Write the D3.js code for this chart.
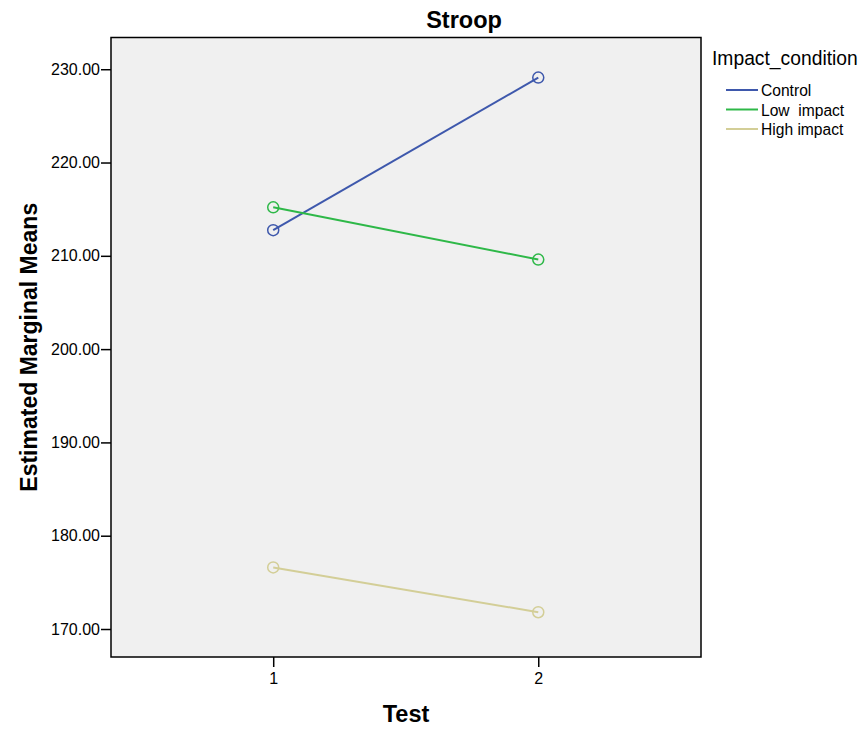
<!DOCTYPE html>
<html>
<head>
<meta charset="utf-8">
<script src="https://cdn.jsdelivr.net/npm/d3@7"></script>
<style>
  body { margin: 0; background: #fff; }
  svg text { font-family: "Liberation Sans", Arial, sans-serif; fill: #000; }
</style>
</head>
<body>
<svg id="chart" width="865" height="729"></svg>
<script>
// data
var tests = [1, 2];
var conditions = ["Control", "Low  impact", "High impact"];
var control = [212.75, 229.1];
var lowImpact = [215.2, 209.6];
var highImpact = [176.6, 171.8];
var yTicks = [170, 180, 190, 200, 210, 220, 230];

var colors = ["#3e58ac", "#2eb848", "#d3ce97"];
var series = [control, lowImpact, highImpact];

var svg = d3.select("svg#chart");
var plot = { left: 111, top: 37.5, right: 701, bottom: 657 };

var x = d3.scaleLinear().domain([0.388, 2.614]).range([plot.left, plot.right]);
var y = d3.scaleLinear().domain([167.0, 233.4]).range([plot.bottom, plot.top]);

svg.append("rect")
    .attr("x", plot.left).attr("y", plot.top)
    .attr("width", plot.right - plot.left)
    .attr("height", plot.bottom - plot.top)
    .attr("fill", "#f0f0f0")
    .attr("stroke", "#000")
    .attr("stroke-width", 1.5);

var yAxis = svg.append("g")
    .attr("transform", "translate(" + plot.left + ",0)")
    .call(d3.axisLeft(y).tickValues(yTicks).tickFormat(d3.format(".2f")).tickSize(10).tickPadding(1));
var xAxis = svg.append("g")
    .attr("transform", "translate(0," + plot.bottom + ")")
    .call(d3.axisBottom(x).tickValues(tests).tickFormat(d3.format("d")).tickSize(10).tickPadding(6));

[yAxis, xAxis].forEach(function(a) {
    a.select(".domain").remove();
    a.selectAll(".tick line").attr("stroke", "#000").attr("stroke-width", 1.5);
    a.selectAll(".tick text")
        .style("font-family", "'Liberation Sans', Arial, sans-serif")
        .style("font-size", "16px")
        .attr("fill", "#000");
});

var line = d3.line()
    .x(function(d, i) { return x(tests[i]); })
    .y(function(d) { return y(d); });

series.forEach(function(s, k) {
    svg.append("path")
        .datum(s)
        .attr("d", line)
        .attr("fill", "none")
        .attr("stroke", colors[k])
        .attr("stroke-width", 2);
    svg.selectAll(".pt" + k)
        .data(s)
        .enter()
        .append("circle")
        .attr("class", "pt" + k)
        .attr("cx", function(d, i) { return x(tests[i]); })
        .attr("cy", function(d) { return y(d); })
        .attr("r", 5.5)
        .attr("fill", "none")
        .attr("stroke", colors[k])
        .attr("stroke-width", 1.5);
});

// titles
svg.append("text")
    .attr("x", 464).attr("y", 28)
    .attr("text-anchor", "middle")
    .style("font-size", "23.5px").style("font-weight", "bold")
    .text("Stroop");

svg.append("text")
    .attr("x", (plot.left + plot.right) / 2).attr("y", 722)
    .attr("text-anchor", "middle")
    .style("font-size", "23.5px").style("font-weight", "bold")
    .text("Test");

svg.append("text")
    .attr("transform", "translate(37," + (plot.top + plot.bottom) / 2 + ")rotate(-90)")
    .attr("text-anchor", "middle")
    .style("font-size", "23px").style("font-weight", "bold")
    .text("Estimated Marginal Means");

// legend
var legend = svg.append("g");
legend.append("text")
    .attr("x", 712).attr("y", 65)
    .style("font-size", "19.3px")
    .text("Impact_condition");

var item = legend.selectAll(".item")
    .data(conditions)
    .enter()
    .append("g")
    .attr("class", "item")
    .attr("transform", function(d, i) { return "translate(0," + (90 + i * 19.5) + ")"; });
item.append("line")
    .attr("x1", 726).attr("x2", 758)
    .attr("y1", 0).attr("y2", 0)
    .attr("stroke", function(d, i) { return colors[i]; })
    .attr("stroke-width", 2);
item.append("text")
    .attr("x", 761).attr("y", 6)
    .style("font-size", "15.6px")
    .style("white-space", "pre")
    .attr("xml:space", "preserve")
    .text(function(d) { return d; });
</script>
</body>
</html>
